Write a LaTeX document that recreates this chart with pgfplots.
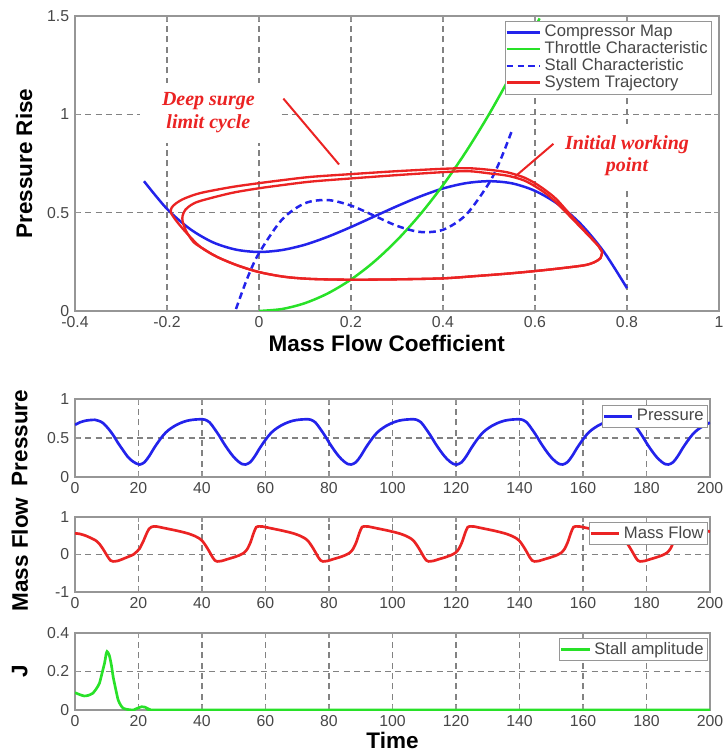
\documentclass[border=0pt]{standalone}
\usepackage{pgfplots}
\pgfplotsset{compat=1.18}
\usepackage{fontspec}
\setmainfont{Liberation Sans}
\newfontfamily\timesfont{Liberation Serif}
\definecolor{mblue}{RGB}{35,35,235}
\definecolor{mred}{RGB}{235,35,35}
\definecolor{mgreen}{RGB}{40,225,40}
\definecolor{gridgray}{RGB}{130,130,130}
\definecolor{framegray}{RGB}{150,150,150}
\newcommand{\labfont}{\fontsize{13.5}{15}\selectfont\bfseries}
\pgfplotsset{
  base/.style={
    scale only axis,
    axis line style={draw=framegray, line width=0.9pt},
    grid=major,
    grid style={gridgray, line width=0.7pt, dash pattern=on 3.6pt off 2.6pt},
    tick style={framegray, line width=0.7pt},
    tick align=inside,
    major tick length=3pt,
    ticklabel style={font=\fontsize{9.5}{10}\selectfont, text=black!72},
    /pgf/number format/assume math mode=true,
    legend cell align=left,
    legend image post style={line width=1.6pt},
  },
  botaxis/.style={
    base,
    width=381pt,
    xmin=0, xmax=200,
    xtick={0,20,40,60,80,100,120,140,160,180,200},
    every axis y label/.style={at={(axis description cs:-0.087,0.5)}, rotate=90, anchor=center, font=\labfont},
    legend image code/.code={\draw[##1] (0pt,0pt) -- (17pt,0pt);},
    legend style={anchor=north east, draw=framegray, fill=white,
      font=\fontsize{10}{11}\selectfont, text=black!72, inner sep=0.3pt},
  },
}
\begin{document}
\begin{tikzpicture}[x=1pt,y=1pt]
\useasboundingbox (0,0) rectangle (436.8,453);

% ---------------- top phase plot ----------------
\begin{axis}[base,
  at={(45pt,266.4pt)}, anchor=south west,
  width=386.4pt, height=177pt,
  xmin=-0.4, xmax=1, ymin=0, ymax=1.5,
  xtick={-0.4,-0.2,0,0.2,0.4,0.6,0.8,1},
  ytick={0,0.5,1,1.5},
  xlabel={Mass Flow Coefficient},
  ylabel={Pressure Rise},
  every axis x label/.style={at={(axis description cs:0.484,0)}, anchor=center, yshift=-19.5pt, font=\labfont},
  every axis y label/.style={at={(axis description cs:-0.079,0.5)}, rotate=90, anchor=center, font=\labfont},
  legend image code/.code={\draw[#1] (0pt,0pt) -- (20pt,0pt);},
  legend style={at={(axis description cs:0.989,0.983)}, anchor=north east,
    draw=framegray, fill=white, font=\fontsize{10}{11}\selectfont, text=black!72,
    inner sep=0.3pt, row sep=-2.6pt},
]
% annotation boxes (white background over grid)
\node[fill=white, text=mred, font=\timesfont\bfseries\itshape\fontsize{12}{13.5}\selectfont,
  align=center, minimum width=82pt, minimum height=36pt, inner sep=0pt]
  at (axis cs:-0.11,1.008) {Deep surge\\limit cycle};
\node[fill=white, text=mred, font=\timesfont\bfseries\itshape\fontsize{12}{13.5}\selectfont,
  align=center, minimum width=81pt, minimum height=38pt, inner sep=0pt]
  at (axis cs:0.80,0.79) {Initial working\\point};
\draw[mred, line width=1.2pt] (axis cs:0.053,1.08) -- (axis cs:0.174,0.745);
\draw[mred, line width=1.2pt] (axis cs:0.64,0.85) -- (axis cs:0.555,0.68);

% compressor map
\addplot[mblue, line width=1.5pt, smooth] coordinates {
(-0.25,0.660) (-0.20,0.519) (-0.15,0.417) (-0.10,0.349) (-0.05,0.312)
(0.00,0.300) (0.05,0.310) (0.10,0.337) (0.15,0.378) (0.20,0.427)
(0.25,0.480) (0.30,0.533) (0.35,0.582) (0.40,0.623) (0.45,0.650)
(0.50,0.660) (0.55,0.649) (0.60,0.611) (0.65,0.543) (0.70,0.441)
(0.75,0.300) (0.80,0.116)};
\addlegendentry{Compressor Map}
% throttle characteristic
\addplot[mgreen, line width=1.5pt, smooth] coordinates {
(0.00,0.000) (0.05,0.010) (0.10,0.040) (0.15,0.090) (0.20,0.160)
(0.25,0.250) (0.30,0.360) (0.35,0.490) (0.40,0.640) (0.45,0.810)
(0.50,1.000) (0.55,1.210) (0.60,1.440) (0.61,1.488)};
\addlegendentry{Throttle Characteristic}
% stall characteristic
\addplot[mblue, line width=1.5pt, smooth, dash pattern=on 4pt off 2.5pt] coordinates {
(-0.05,0.010) (-0.025,0.169) (0.00,0.294) (0.05,0.465) (0.10,0.548)
(0.15,0.564) (0.20,0.536) (0.25,0.485) (0.30,0.433) (0.35,0.402)
(0.40,0.413) (0.45,0.489) (0.50,0.650) (0.525,0.769) (0.55,0.918)};
\addlegendentry{Stall Characteristic}
% system trajectory (outer loop)
\addplot[mred, line width=1.4pt, smooth, tension=0.5] coordinates {
(0.746,0.300) (0.742,0.268) (0.728,0.247) (0.706,0.232) (0.648,0.215)
(0.600,0.203) (0.540,0.190) (0.468,0.177) (0.400,0.166) (0.300,0.161)
(0.200,0.159) (0.113,0.163) (0.055,0.174) (0.000,0.198) (-0.047,0.232)
(-0.091,0.275) (-0.127,0.325) (-0.156,0.393) (-0.178,0.453) (-0.191,0.498)
(-0.190,0.525) (-0.180,0.548) (-0.162,0.572) (-0.127,0.600) (-0.060,0.630)
(0.000,0.650) (0.050,0.665) (0.113,0.682) (0.200,0.696) (0.300,0.711)
(0.400,0.723) (0.455,0.726) (0.500,0.718) (0.540,0.705) (0.575,0.680)
(0.600,0.650) (0.625,0.610) (0.648,0.565) (0.684,0.470) (0.720,0.378)
(0.738,0.330) (0.746,0.300)};
\addlegendentry{System Trajectory}
% system trajectory (inner loop)
\addplot[mred, line width=1.4pt, smooth, tension=0.5, forget plot] coordinates {
(0.746,0.300) (0.742,0.268) (0.728,0.247) (0.706,0.232) (0.648,0.215)
(0.600,0.203) (0.540,0.190) (0.468,0.177) (0.400,0.166) (0.300,0.161)
(0.200,0.159) (0.113,0.163) (0.055,0.174) (0.000,0.198) (-0.047,0.232)
(-0.091,0.275) (-0.120,0.315) (-0.142,0.350) (-0.158,0.405) (-0.166,0.455)
(-0.166,0.485) (-0.160,0.515) (-0.147,0.540) (-0.127,0.560) (-0.060,0.600)
(0.000,0.624) (0.050,0.640) (0.113,0.658) (0.200,0.674) (0.300,0.691)
(0.400,0.706) (0.455,0.711) (0.500,0.700) (0.540,0.688) (0.575,0.665)
(0.600,0.634) (0.625,0.595) (0.648,0.548) (0.684,0.462) (0.720,0.375)
(0.738,0.330) (0.746,0.300)};
\end{axis}

% ---------------- Pressure ----------------
\begin{axis}[botaxis,
  at={(45pt,166.8pt)}, anchor=south west, height=46.8pt,
  ymin=0, ymax=1, ytick={0,0.5,1},
  ylabel={Pressure},
  legend style={at={(axis description cs:0.9965,0.92)}},
]
\node[font=\fontsize{3}{3}\selectfont, text=black!60] at (axis description cs:0.5,0) [yshift=-12pt] {time};
\addplot[mblue, line width=1.6pt, smooth] coordinates {
(0,0.668) (1.5,0.700) (3.6,0.724) (6.25,0.733) (7.5,0.720) (8.9,0.690)
(10.5,0.620) (12,0.539) (13.5,0.440) (15.1,0.345) (16.5,0.265) (17.7,0.216) (19,0.180)
(20.4,0.16) (21.9,0.19) (23.4,0.27) (24.9,0.37) (26.4,0.46) (27.9,0.54) (29.4,0.60)
(31.4,0.655) (33.4,0.695) (35.4,0.722) (37.4,0.735) (39.4,0.74) (40.9,0.735) (42.4,0.70)
(43.9,0.62) (45.4,0.53) (46.9,0.43) (48.4,0.34) (49.9,0.26) (51.4,0.20) (52.7,0.165)
(53.7,0.16) (55.2,0.19) (56.7,0.27) (58.2,0.37) (59.7,0.46) (61.2,0.54) (62.7,0.60)
(64.7,0.655) (66.7,0.695) (68.7,0.722) (70.7,0.735) (72.7,0.74) (74.2,0.735) (75.7,0.70)
(77.2,0.62) (78.7,0.53) (80.2,0.43) (81.7,0.34) (83.2,0.26) (84.7,0.20) (86.0,0.165)
(87.0,0.16) (88.5,0.19) (90.0,0.27) (91.5,0.37) (93.0,0.46) (94.5,0.54) (96.0,0.60)
(98.0,0.655) (100.0,0.695) (102.0,0.722) (104.0,0.735) (106.0,0.74) (107.5,0.735) (109.0,0.70)
(110.5,0.62) (112.0,0.53) (113.5,0.43) (115.0,0.34) (116.5,0.26) (118.0,0.20) (119.3,0.165)
(120.3,0.16) (121.8,0.19) (123.3,0.27) (124.8,0.37) (126.3,0.46) (127.8,0.54) (129.3,0.60)
(131.3,0.655) (133.3,0.695) (135.3,0.722) (137.3,0.735) (139.3,0.74) (140.8,0.735) (142.3,0.70)
(143.8,0.62) (145.3,0.53) (146.8,0.43) (148.3,0.34) (149.8,0.26) (151.3,0.20) (152.6,0.165)
(153.6,0.16) (155.1,0.19) (156.6,0.27) (158.1,0.37) (159.6,0.46) (161.1,0.54) (162.6,0.60)
(164.6,0.655) (166.6,0.695) (168.6,0.722) (170.6,0.735) (172.6,0.74) (174.1,0.735) (175.6,0.70)
(177.1,0.62) (178.6,0.53) (180.1,0.43) (181.6,0.34) (183.1,0.26) (184.6,0.20) (185.9,0.165)
(186.9,0.16) (188.4,0.19) (189.9,0.27) (191.4,0.37) (192.9,0.46) (194.4,0.54) (195.9,0.60)
(197.9,0.655) (200,0.697)};
\addlegendentry{Pressure}
\end{axis}

% ---------------- Mass Flow ----------------
\begin{axis}[botaxis,
  at={(45pt,97.8pt)}, anchor=south west, height=45pt,
  ymin=-1, ymax=1, ytick={-1,0,1},
  ylabel={Mass Flow},
  legend style={at={(axis description cs:0.9965,0.933)}},
]
\node[font=\fontsize{3}{3}\selectfont, text=black!60] at (axis description cs:0.5,0) [yshift=-12pt] {time};
\addplot[mred, line width=1.6pt, smooth, tension=0.4] coordinates {
(0,0.564) (1.5,0.55) (3.4,0.50) (5,0.44) (6.6,0.37) (7.8,0.27) (8.8,0.15) (9.6,0.04)
(10.4,-0.07) (11.2,-0.16) (12,-0.185) (13.5,-0.17) (15.2,-0.115) (16.8,-0.06) (18.4,0.0)
(19.5,0.08) (20.3,0.15) (21.6,0.37) (22.5,0.55) (23.3,0.68) (24.0,0.73)
(24.8,0.75) (25.8,0.745) (27.8,0.71) (29.8,0.675) (31.8,0.64) (33.8,0.60) (35.8,0.555) (37.8,0.49)
(39.3,0.42) (40.3,0.34) (41.3,0.22) (42.3,0.08) (43.3,-0.07) (44.1,-0.16) (44.8,-0.185) (46.3,-0.17)
(47.8,-0.13) (49.8,-0.08) (51.8,-0.02) (53.3,0.05) (54.3,0.15) (55.3,0.33) (56.3,0.58) (57.1,0.73)
(58.1,0.75) (59.1,0.745) (61.1,0.71) (63.1,0.675) (65.1,0.64) (67.1,0.60) (69.1,0.555) (71.1,0.49)
(72.6,0.42) (73.6,0.34) (74.6,0.22) (75.6,0.08) (76.6,-0.07) (77.4,-0.16) (78.1,-0.185) (79.6,-0.17)
(81.1,-0.13) (83.1,-0.08) (85.1,-0.02) (86.6,0.05) (87.6,0.15) (88.6,0.33) (89.6,0.58) (90.4,0.73)
(91.4,0.75) (92.4,0.745) (94.4,0.71) (96.4,0.675) (98.4,0.64) (100.4,0.60) (102.4,0.555) (104.4,0.49)
(105.9,0.42) (106.9,0.34) (107.9,0.22) (108.9,0.08) (109.9,-0.07) (110.7,-0.16) (111.4,-0.185) (112.9,-0.17)
(114.4,-0.13) (116.4,-0.08) (118.4,-0.02) (119.9,0.05) (120.9,0.15) (121.9,0.33) (122.9,0.58) (123.7,0.73)
(124.7,0.75) (125.7,0.745) (127.7,0.71) (129.7,0.675) (131.7,0.64) (133.7,0.60) (135.7,0.555) (137.7,0.49)
(139.2,0.42) (140.2,0.34) (141.2,0.22) (142.2,0.08) (143.2,-0.07) (144.0,-0.16) (144.7,-0.185) (146.2,-0.17)
(147.7,-0.13) (149.7,-0.08) (151.7,-0.02) (153.2,0.05) (154.2,0.15) (155.2,0.33) (156.2,0.58) (157.0,0.73)
(158.0,0.75) (159.0,0.745) (161.0,0.71) (163.0,0.675) (165.0,0.64) (167.0,0.60) (169.0,0.555) (171.0,0.49)
(172.5,0.42) (173.5,0.34) (174.5,0.22) (175.5,0.08) (176.5,-0.07) (177.3,-0.16) (178.0,-0.185) (179.5,-0.17)
(181.0,-0.13) (183.0,-0.08) (185.0,-0.02) (186.5,0.05) (187.5,0.15) (188.5,0.33) (189.5,0.58) (190.3,0.73)
(191.3,0.75) (192.3,0.745) (194.3,0.71) (196.3,0.675) (198.3,0.64) (200,0.61)};
\addlegendentry{Mass Flow}
\end{axis}

% ---------------- J ----------------
\begin{axis}[botaxis,
  at={(45pt,27pt)}, anchor=south west, height=46.2pt,
  ymin=0, ymax=0.4, ytick={0,0.2,0.4},
  ylabel={J}, xlabel={Time},
  every axis x label/.style={at={(axis description cs:0.5,0)}, anchor=center, yshift=-18pt, font=\labfont},
  legend style={at={(axis description cs:0.9965,0.935)}},
]
\addplot[mgreen, line width=1.6pt, smooth, tension=0.4] coordinates {
(0,0.09) (1.5,0.08) (2.9,0.073) (4.2,0.076) (5.6,0.087) (6.7,0.11) (7.7,0.139)
(8.5,0.19) (9.3,0.243) (9.8,0.29) (10.1,0.304) (10.5,0.295) (10.9,0.278) (11.5,0.23)
(12,0.174) (12.8,0.11) (13.6,0.052) (14.4,0.025) (15.2,0.009) (16.5,0.003) (18.4,0.0)
(19.5,0.008) (21,0.017) (22,0.015) (22.7,0.009) (23.5,0.003) (24.3,0.0) (40,0.0)
(80,0.0) (120,0.0) (160,0.0) (200,0.0)};
\addlegendentry{Stall amplitude}
\end{axis}
\end{tikzpicture}
\end{document}
